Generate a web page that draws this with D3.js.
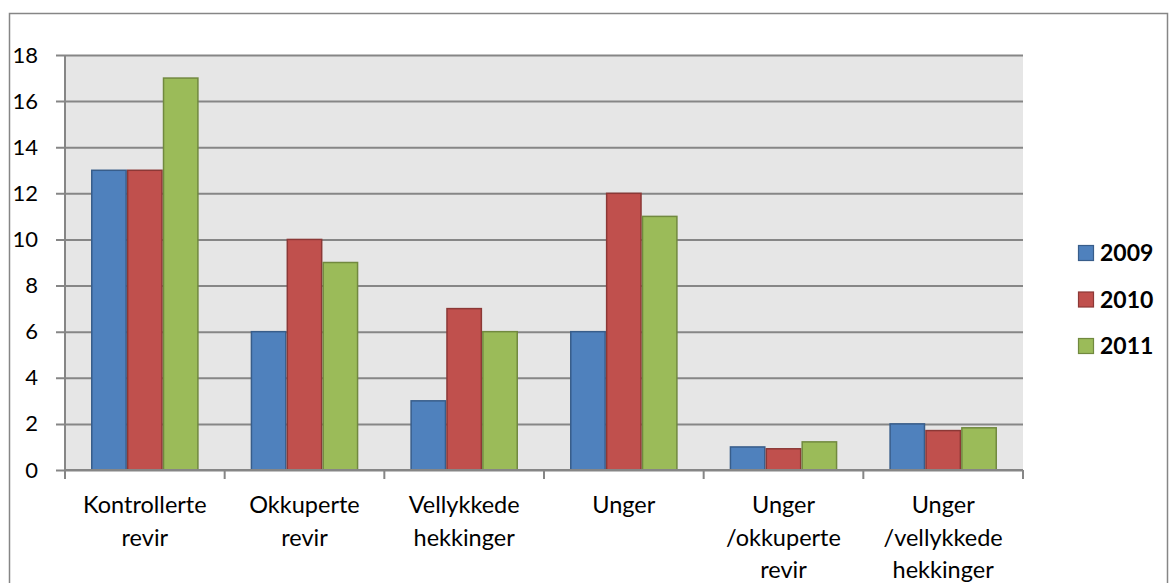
<!DOCTYPE html>
<html><head><meta charset="utf-8">
<script src="https://cdn.jsdelivr.net/npm/d3@7"></script>
<style>body{margin:0;background:#fff}svg{display:block}</style>
</head><body><svg id="c" width="1170" height="583"></svg>
<script>
const categories = [["Kontrollerte","revir"],["Okkuperte","revir"],["Vellykkede","hekkinger"],["Unger"],["Unger","/okkuperte","revir"],["Unger","/vellykkede","hekkinger"]];
const seriesNames = ["2009","2010","2011"];
const s2009 = [13,6,3,6,1,2];
const s2010 = [13,10,7,12,0.92,1.71];
const s2011 = [17,9,6,11,1.22,1.83];
const yTicks = [0,2,4,6,8,10,12,14,16,18];
const fills = ["#4F81BD","#C0504D","#9BBB59"];
const strokes = ["#385D8A","#8C3836","#71893F"];
const values = [s2009,s2010,s2011];

const svg = d3.select("#c");
const font = "Lato, 'Open Sans', sans-serif";
svg.append("rect").attr("x",9.5).attr("y",13.5).attr("width",1158).attr("height",600).attr("fill","#fff").attr("stroke","#868686").attr("stroke-width",1.5);

const L=65,R=1023,T=55,B=470;
const x = d3.scaleBand().domain(d3.range(categories.length)).range([L,R]).paddingInner(0).paddingOuter(0);
const xi = d3.scaleBand().domain(d3.range(3)).range([0,x.bandwidth()]).paddingOuter(0.725).paddingInner(0);
const y = d3.scaleLinear().domain([0,18]).range([B,T]);

svg.append("rect").attr("x",L).attr("y",T).attr("width",R-L).attr("height",B-T).attr("fill","#e6e6e6");
const yAxis = d3.axisLeft(y).tickValues(yTicks).tickSize(R-L+9).tickPadding(18);
const gy = svg.append("g").attr("transform",`translate(${R},0)`).call(yAxis);
gy.select(".domain").remove();
gy.selectAll(".tick line").attr("stroke","#868686").attr("stroke-width",2);
gy.selectAll(".tick text").attr("font-family",font).attr("font-size",22).attr("fill","#000");
svg.append("line").attr("x1",L).attr("x2",L).attr("y1",T).attr("y2",B).attr("stroke","#868686").attr("stroke-width",2);

const g = svg.append("g");
values.forEach((vals,si)=>{
  g.selectAll(null).data(vals).enter().append("rect")
   .attr("x",(d,i)=>x(i)+xi(si)+0.75).attr("width",xi.bandwidth()-1.5)
   .attr("y",d=>y(d)).attr("height",d=>B-y(d))
   .attr("fill",fills[si]).attr("stroke",strokes[si]).attr("stroke-width",1.5);
});

// x axis
svg.append("line").attr("x1",L).attr("x2",R).attr("y1",B).attr("y2",B).attr("stroke","#868686").attr("stroke-width",2);
const xt = d3.range(categories.length+1).map(i=>L+i*x.bandwidth());
svg.selectAll(null).data(xt).enter().append("line").attr("x1",d=>d).attr("x2",d=>d).attr("y1",B).attr("y2",B+9).attr("stroke","#868686").attr("stroke-width",2);
categories.forEach((lines,i)=>{
  const t = svg.append("text").attr("text-anchor","middle").attr("font-family",font).attr("font-size",23.5).attr("fill","#000");
  lines.forEach((ln,j)=>t.append("tspan").attr("x",x(i)+x.bandwidth()/2).attr("y",513+j*32.5).text(ln));
});

// legend
const lg = svg.append("g");
seriesNames.forEach((n,i)=>{
  const yy = 253 + i*46.5;
  lg.append("rect").attr("x",1078.5).attr("y",yy-7.5).attr("width",15).attr("height",15).attr("fill",fills[i]).attr("stroke",strokes[i]).attr("stroke-width",1.2);
  lg.append("text").attr("x",1100).attr("y",yy+8).attr("font-family",font).attr("font-weight","bold").attr("font-size",23).text(n);
});
</script></body></html>
